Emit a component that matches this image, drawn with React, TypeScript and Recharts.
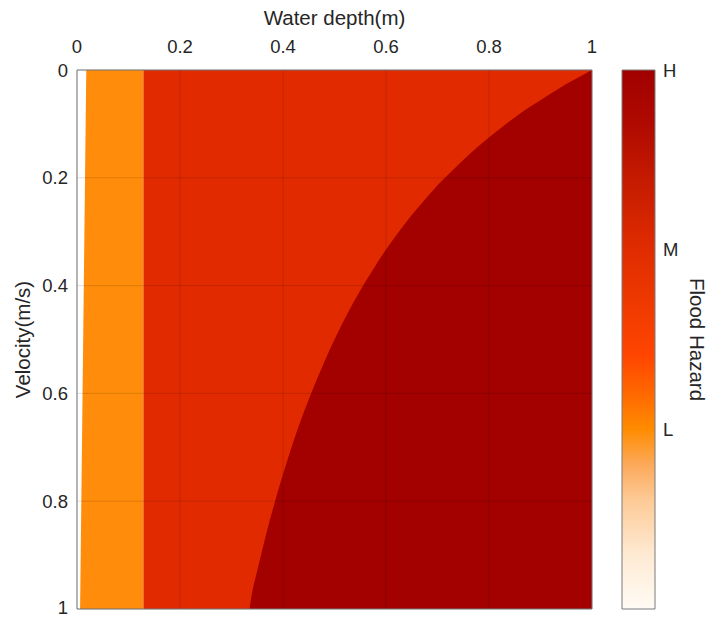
import React from "react";
import {
  ComposedChart,
  Area,
  XAxis,
  YAxis,
  CartesianGrid,
  BarChart,
  Bar,
} from "recharts";

const depthTicks = [0, 0.2, 0.4, 0.6, 0.8, 1];
const velocityTicks = [0, 0.2, 0.4, 0.6, 0.8, 1];

// white / orange edge, slightly tilted (depth at velocity 1 and 0)
const lowEdgeDepth = [0.006, 0.018];
const lowEdgeVelocity = [1, 0];

// orange / red edge
const midEdgeDepth = 0.129;

// red / dark red boundary
const highCurveDepth = [
  0.335, 0.34, 0.35, 0.36, 0.37, 0.38, 0.39, 0.4, 0.42, 0.44, 0.46, 0.48, 0.5,
  0.525, 0.55, 0.575, 0.6, 0.625, 0.65, 0.675, 0.7, 0.725, 0.75, 0.775, 0.8,
  0.825, 0.85, 0.875, 0.9, 0.925, 0.95, 0.975, 1,
];
const highCurveVelocity = [
  1, 0.97, 0.929, 0.889, 0.851, 0.816, 0.782, 0.75, 0.69, 0.636, 0.587, 0.542,
  0.5, 0.452, 0.409, 0.37, 0.333, 0.3, 0.269, 0.241, 0.214, 0.19, 0.167, 0.145,
  0.125, 0.106, 0.088, 0.071, 0.056, 0.041, 0.026, 0.013, 0,
];

// colour bar
const hazardMax = 3;
const hazardTicks = [1, 2, 3];
const hazardLabels = ["L", "M", "H"];

const LOW_COLOR = "#FF8C0A";
const MID_COLOR = "#E12A00";
const HIGH_COLOR = "#A30000";
const TEXT = "#262626";
const BOX = "#7a7a7a";
const FONT = "'Liberation Sans', Arial, Helvetica, sans-serif";

type Range = [number, number] | null;
interface Row {
  depth: number;
  low: Range;
  mid: Range;
  high: Range;
}

const rows: Row[] = [
  { depth: lowEdgeDepth[0], low: [lowEdgeVelocity[0], 1], mid: null, high: null },
  { depth: lowEdgeDepth[1], low: [lowEdgeVelocity[1], 1], mid: null, high: null },
  { depth: midEdgeDepth, low: [0, 1], mid: [0, 1], high: null },
  ...highCurveDepth.map((d, i) => ({
    depth: d,
    low: null,
    mid: [0, 1] as Range,
    high: [highCurveVelocity[i], 1] as Range,
  })),
];

const colorBarData = [{ name: "hazard", value: hazardMax }];

const W = 712;
const H = 618;
const mainMargin = { top: 40, right: 120, bottom: 9, left: 0 };
// same plot rectangle, for mirrored axes that take no room
const plotMargin = { top: 70, right: 120, bottom: 9, left: 77 };
const barMargin = { top: 70, right: 0, bottom: 9, left: 22 };
const barPlotMargin = { top: 70, right: 57, bottom: 9, left: 22 };

const tickStyle = { fill: TEXT, fontSize: 18.5, fontFamily: FONT };
const tickLineStyle = { stroke: "#333", strokeWidth: 1 };

const layer: React.CSSProperties = { position: "absolute", left: 0, top: 0 };

// box + inward ticks, drawn as a separate layer above the filled areas
function AxesOverlay() {
  const common = {
    type: "number" as const,
    domain: [0, 1],
    mirror: true,
    axisLine: { stroke: BOX },
    tickLine: tickLineStyle,
    tickSize: 5,
    tick: false,
  };
  return (
    <ComposedChart width={W} height={H} data={rows} margin={plotMargin}>
      <XAxis {...common} dataKey="depth" orientation="top" ticks={depthTicks} />
      <XAxis {...common} xAxisId="b" dataKey="depth" orientation="bottom" ticks={depthTicks} />
      <YAxis {...common} orientation="left" reversed ticks={velocityTicks} />
      <YAxis {...common} yAxisId="r" orientation="right" reversed ticks={velocityTicks} />
    </ComposedChart>
  );
}

function ColorBarTicks() {
  return (
    <BarChart width={112} height={H} data={colorBarData} margin={barPlotMargin}>
      <XAxis dataKey="name" hide />
      <YAxis
        type="number"
        orientation="right"
        mirror
        domain={[0, hazardMax]}
        ticks={hazardTicks}
        axisLine={false}
        tickLine={tickLineStyle}
        tickSize={5}
        tick={false}
      />
    </BarChart>
  );
}

export default function App() {
  return (
    <div style={{ position: "absolute", left: 0, top: 0, width: W, height: H, background: "#fff" }}>
      <div style={layer}>
        <ComposedChart width={W} height={H} data={rows} margin={mainMargin}>
          <Area
            dataKey="low"
            type="linear"
            fill={LOW_COLOR}
            fillOpacity={1}
            stroke="none"
            isAnimationActive={false}
          />
          <Area
            dataKey="mid"
            type="linear"
            fill={MID_COLOR}
            fillOpacity={1}
            stroke="none"
            isAnimationActive={false}
          />
          <Area
            dataKey="high"
            type="monotone"
            fill={HIGH_COLOR}
            fillOpacity={1}
            stroke="none"
            isAnimationActive={false}
          />
          <CartesianGrid stroke="#000" strokeOpacity={0.13} {...({ zIndex: 450 } as any)} />
          <XAxis
            dataKey="depth"
            type="number"
            orientation="top"
            domain={[0, 1]}
            ticks={depthTicks}
            allowDataOverflow
            height={30}
            axisLine={false}
            tickLine={false}
            tickMargin={11}
            tick={tickStyle}
            label={{
              content: ({ viewBox }: any) => (
                <text
                  x={viewBox.x + viewBox.width / 2}
                  y={viewBox.y - 15}
                  textAnchor="middle"
                  fill={TEXT}
                  fontSize={20.5}
                  fontFamily={FONT}
                >
                  Water depth(m)
                </text>
              ),
            }}
          />
          <YAxis
            type="number"
            reversed
            domain={[0, 1]}
            ticks={velocityTicks}
            allowDataOverflow
            width={77}
            axisLine={false}
            tickLine={false}
            tickMargin={3}
            tick={tickStyle}
            label={{
              content: ({ viewBox }: any) => {
                const cx = 22;
                const cy = viewBox.y + viewBox.height / 2;
                return (
                  <text
                    x={cx}
                    y={cy}
                    transform={`rotate(-90, ${cx}, ${cy})`}
                    textAnchor="middle"
                    dominantBaseline="central"
                    fill={TEXT}
                    fontSize={20.5}
                    fontFamily={FONT}
                  >
                    Velocity(m/s)
                  </text>
                );
              },
            }}
          />
        </ComposedChart>
      </div>
      <div style={layer}>
        <AxesOverlay />
      </div>
      <div style={{ ...layer, left: 600 }}>
        <BarChart
          width={112}
          height={H}
          data={colorBarData}
          margin={barMargin}
          barCategoryGap={0}
        >
          <defs>
            <linearGradient id="hazardGradient" x1="0" y1="1" x2="0" y2="0">
              <stop offset="0" stopColor="#FFFBF5" />
              <stop offset="0.1" stopColor="#FEEAD3" />
              <stop offset="0.2" stopColor="#FDCB98" />
              <stop offset="0.27" stopColor="#FCA858" />
              <stop offset="0.333" stopColor="#FF8C00" />
              <stop offset="0.4" stopColor="#FF6800" />
              <stop offset="0.47" stopColor="#FF4500" />
              <stop offset="0.56" stopColor="#F03A00" />
              <stop offset="0.667" stopColor="#E02C00" />
              <stop offset="0.8" stopColor="#C41A00" />
              <stop offset="0.9" stopColor="#B00A00" />
              <stop offset="1" stopColor="#A00000" />
            </linearGradient>
          </defs>
          <Bar
            dataKey="value"
            fill="url(#hazardGradient)"
            stroke={BOX}
            strokeWidth={1}
            isAnimationActive={false}
          />
          <XAxis dataKey="name" hide />
          <YAxis
            type="number"
            orientation="right"
            domain={[0, hazardMax]}
            ticks={hazardTicks}
            width={57}
            axisLine={false}
            tickLine={false}
            tickMargin={2}
            tick={tickStyle}
            tickFormatter={(v: number) => hazardLabels[hazardTicks.indexOf(v)] ?? ""}
            label={{
              content: ({ viewBox }: any) => {
                const cx = 697 - 600;
                const cy = viewBox.y + viewBox.height / 2;
                return (
                  <text
                    x={cx}
                    y={cy}
                    transform={`rotate(90, ${cx}, ${cy})`}
                    textAnchor="middle"
                    dominantBaseline="central"
                    fill={TEXT}
                    fontSize={20.5}
                    fontFamily={FONT}
                  >
                    Flood Hazard
                  </text>
                );
              },
            }}
          />
        </BarChart>
      </div>
      <div style={{ ...layer, left: 600 }}>
        <ColorBarTicks />
      </div>
    </div>
  );
}
